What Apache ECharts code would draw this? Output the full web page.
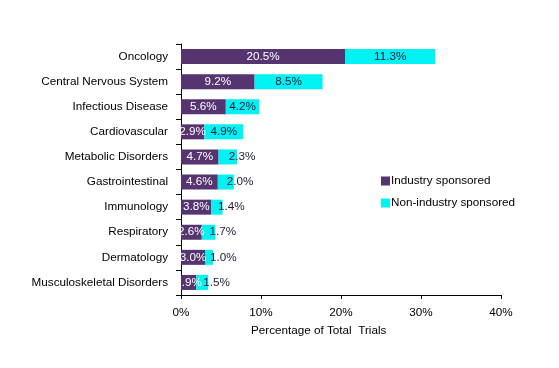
<!DOCTYPE html>
<html>
<head>
<meta charset="utf-8">
<script src="https://cdn.jsdelivr.net/npm/echarts@6/dist/echarts.min.js"></script>
<style>html,body{margin:0;padding:0;background:#fff;}#c{width:559px;height:368px;}</style>
</head>
<body>
<div id="c"></div>
<script>
const categories = ["Oncology","Central Nervous System","Infectious Disease","Cardiovascular","Metabolic Disorders","Gastrointestinal","Immunology","Respiratory","Dermatology","Musculoskeletal Disorders"];
const industry = [20.5, 9.2, 5.6, 2.9, 4.7, 4.6, 3.8, 2.6, 3.0, 1.9];
const nonIndustry = [11.3, 8.5, 4.2, 4.9, 2.3, 2.0, 1.4, 1.7, 1.0, 1.5];
const xTicks = [0, 10, 20, 30, 40];
const seriesNames = ["Industry sponsored", "Non-industry sponsored"];
const axisTitle = "Percentage of Total  Trials";

const FONT = "Liberation Sans";
const FS = 11.7;
const chart = echarts.init(document.getElementById('c'), null, {renderer: 'canvas'});
chart.setOption({
  animation: false,
  backgroundColor: '#ffffff',
  textStyle: {fontFamily: FONT},
  title: {
    text: axisTitle,
    left: 246, top: 320,
    textStyle: {fontFamily: FONT, fontSize: FS, fontWeight: 'normal', color: '#000'}
  },
  grid: {left: 181, right: 58, top: 44, bottom: 73, containLabel: false},
  legend: {
    orient: 'vertical',
    left: 376, top: 170,
    itemWidth: 9, itemHeight: 9, itemGap: 10,
    icon: 'rect',
    data: seriesNames,
    textStyle: {fontFamily: FONT, fontSize: FS, color: '#000', padding: [0,0,0,-4]}
  },
  xAxis: {
    type: 'value',
    min: xTicks[0], max: xTicks[xTicks.length-1], interval: 10,
    axisLine: {show: true, lineStyle: {color: '#000', width: 1}},
    axisTick: {show: true, length: 4, lineStyle: {color: '#000'}},
    splitLine: {show: false},
    axisLabel: {formatter: v => v + '%', color: '#000', fontSize: FS, margin: 12, fontFamily: FONT}
  },
  yAxis: {
    type: 'category',
    data: categories,
    inverse: true,
    axisLine: {show: true, lineStyle: {color: '#000', width: 1}},
    axisTick: {show: true, length: 5, alignWithLabel: false, lineStyle: {color: '#000'}},
    axisLabel: {color: '#000', fontSize: FS, margin: 13, fontFamily: FONT}
  },
  series: [
    {
      name: seriesNames[0], type: 'bar', stack: 'total', data: industry,
      barWidth: 15,
      itemStyle: {color: '#56346F'},
      label: {show: true, position: 'inside', formatter: p => p.value.toFixed(1) + '%', color: '#fff', fontSize: FS, fontFamily: FONT}
    },
    {
      name: seriesNames[1], type: 'bar', stack: 'total', data: nonIndustry,
      barWidth: 15,
      itemStyle: {color: '#00F2F2'},
      label: {show: true, position: 'inside', formatter: p => p.value.toFixed(1) + '%', color: '#1a1a3a', fontSize: FS, fontFamily: FONT},
      labelLayout: function (params) {
        if (params.labelRect.width > params.rect.width) {
          return {dx: params.rect.x + params.rect.width / 2 - params.labelRect.x + 1};
        }
        return {};
      }
    }
  ]
});
</script>
</body>
</html>
